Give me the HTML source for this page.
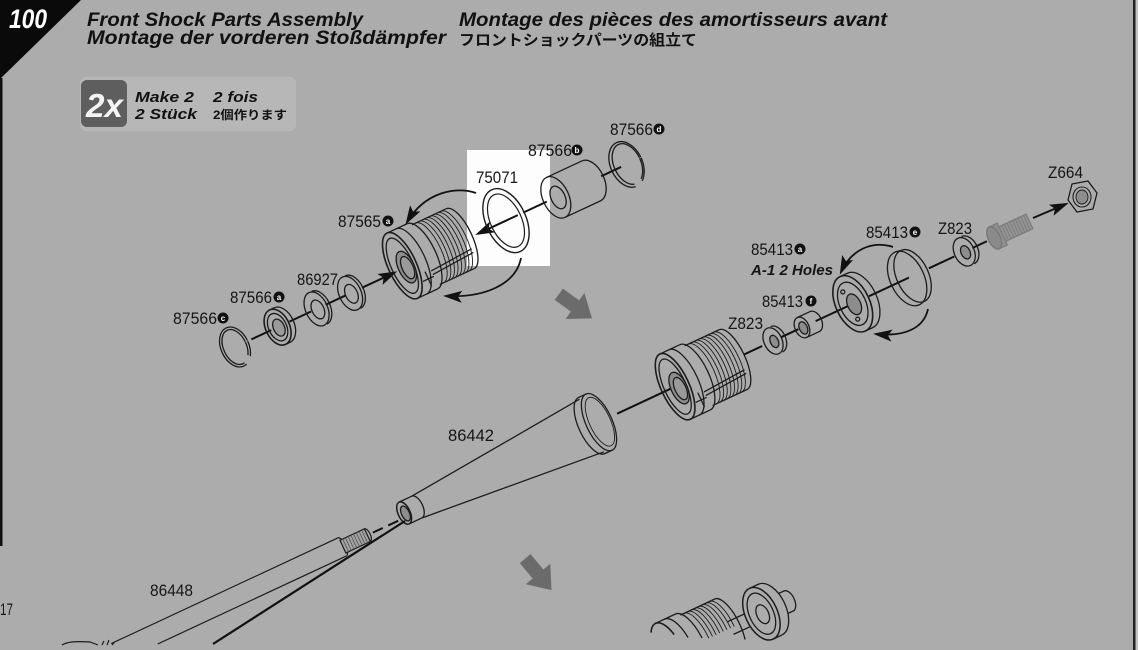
<!DOCTYPE html>
<html><head><meta charset="utf-8">
<style>
html,body{margin:0;padding:0;background:#acacac;overflow:hidden;width:1138px;height:650px;}
svg{display:block;overflow:hidden;}
text{font-family:"Liberation Sans","Noto Sans CJK JP",sans-serif;}
.l{font-size:17px;fill:#151515;}
.t{font-size:19px;font-weight:bold;font-style:italic;fill:#111;}
.c{font-size:8px;font-weight:bold;fill:#fff;}
</style></head><body>
<svg width="1138" height="650" viewBox="0 0 1138 650" xmlns="http://www.w3.org/2000/svg">
<defs>
 <marker id="ah" markerUnits="userSpaceOnUse" markerWidth="22" markerHeight="14" refX="16" refY="7" orient="auto">
  <path d="M0,1 L19,7 L0,13 L4,7 z" fill="#111"/>
 </marker>
 <g id="bd" fill="none" stroke="#1c1c1c" stroke-width="1.3">
  <path d="M0,-36 L22,-36 M0,36 L22,36"/>
  <path d="M22,-36 A14 36 0 0 1 22,36"/>
  <path d="M10,-36 A14 36 0 0 1 10,36"/>
  <path d="M26,-33 L64,-33 M26,33 L64,33"/>
  <path d="M64,-33 A12 33 0 0 1 64,33"/>
  <path d="M30,-33 A12 33 0 0 1 30,33 M34,-33 A12 33 0 0 1 34,33 M38,-33 A12 33 0 0 1 38,33 M42,-33 A12 33 0 0 1 42,33 M46,-33 A12 33 0 0 1 46,33 M50,-33 A12 33 0 0 1 50,33 M54,-33 A12 33 0 0 1 54,33 M58,-33 A12 33 0 0 1 58,33" stroke-width="0.9"/>
  <path d="M24,17 L70,14 M24,21 L70,18"/>
  <path d="M12,23 L24,23 M18,15 L18,31"/>
  <ellipse cx="0" cy="0" rx="14" ry="36" stroke-width="1.6"/>
  <ellipse cx="0" cy="0" rx="11" ry="30"/>
  <ellipse cx="3" cy="3" rx="8" ry="17" fill="#8d8d8d"/>
  <ellipse cx="4" cy="4" rx="5.5" ry="12" fill="#9a9a9a"/>
 </g>
</defs>

<rect x="0" y="0" width="1138" height="650" fill="#acacac"/>

<!-- frame -->
<polygon points="0,0 81,0 0,79" fill="#0a0a0a"/>
<rect x="0" y="78" width="2.5" height="468" fill="#111"/>
<rect x="1133" y="0" width="2.5" height="650" fill="#222"/>
<rect x="1135.5" y="0" width="2.5" height="650" fill="#c4c4c4"/>

<!-- header -->
<text x="9" y="28" font-size="27" font-weight="bold" font-style="italic" fill="#fff" textLength="38" lengthAdjust="spacingAndGlyphs">100</text>
<text class="t" x="87" y="26" textLength="276" lengthAdjust="spacingAndGlyphs">Front Shock Parts Assembly</text>
<text class="t" x="87" y="44" textLength="359" lengthAdjust="spacingAndGlyphs">Montage der vorderen Stoßdämpfer</text>
<text class="t" x="459" y="26" textLength="428" lengthAdjust="spacingAndGlyphs">Montage des pièces des amortisseurs avant</text>
<text x="459" y="45" font-size="15" font-weight="bold" fill="#111" textLength="238" lengthAdjust="spacingAndGlyphs">フロントショックパーツの組立て</text>

<!-- badge -->
<rect x="80" y="77" width="216" height="54" rx="6" fill="#b7b7b7"/>
<rect x="81" y="80" width="46" height="47" rx="6" fill="#5e5e5e"/>
<text x="86" y="117" font-size="33" font-weight="bold" font-style="italic" fill="#f4f4f4" textLength="37" lengthAdjust="spacingAndGlyphs">2x</text>
<text x="135" y="102" font-size="15" font-weight="bold" font-style="italic" fill="#111" textLength="59" lengthAdjust="spacingAndGlyphs">Make 2</text>
<text x="213" y="102" font-size="15" font-weight="bold" font-style="italic" fill="#111" textLength="45" lengthAdjust="spacingAndGlyphs">2 fois</text>
<text x="135" y="119" font-size="15" font-weight="bold" font-style="italic" fill="#111" textLength="62" lengthAdjust="spacingAndGlyphs">2 Stück</text>
<text x="213" y="119" font-size="12" font-weight="bold" fill="#111" textLength="74" lengthAdjust="spacingAndGlyphs">2個作ります</text>

<!-- white highlight -->
<rect x="467" y="150" width="83" height="116" fill="#fdfdfd"/>

<!-- gray block arrows -->
<polygon points="-20,-7 0,-7 0,-16 21,0 0,16 0,7 -20,7" transform="translate(575,306) rotate(36)" fill="#6b6b6b"/>
<polygon points="-20,-7 0,-7 0,-16 21,0 0,16 0,7 -20,7" transform="translate(538,574) rotate(50)" fill="#6b6b6b"/>

<!-- LEFT GROUP -->
<g transform="translate(235,347) rotate(-25)" fill="none" stroke="#1c1c1c" stroke-width="1.3">
 <g stroke="#111" stroke-width="2">
  <line x1="18" y1="0" x2="40" y2="0"/>
  <line x1="60" y1="0" x2="84" y2="0"/>
  <line x1="100" y1="0" x2="122" y2="0"/>
  <line x1="318" y1="0" x2="344" y2="0"/>
  <line x1="404" y1="0" x2="426" y2="0"/>
  <line x1="140" y1="0" x2="176" y2="0" marker-end="url(#ah)"/>
  <line x1="312" y1="0" x2="268" y2="0" marker-end="url(#ah)"/>
 </g>
 <ellipse cx="0" cy="0" rx="14" ry="21" pathLength="100" stroke-dasharray="14 8 78"/>
 <ellipse cx="0" cy="0" rx="11.5" ry="18.5" pathLength="100" stroke-dasharray="14 9 77"/>
 <path d="M52,-19 A12 19 0 0 1 52,19 M47,-19 L52,-19 M47,19 L52,19"/>
 <ellipse cx="47" cy="0" rx="12" ry="19" stroke-width="1.6"/>
 <ellipse cx="47" cy="0" rx="9" ry="14.5"/>
 <ellipse cx="48" cy="1" rx="5.5" ry="9" fill="#9a9a9a"/>
 <path d="M93,-18 A11 18 0 0 1 93,18"/>
 <ellipse cx="90" cy="0" rx="11" ry="18"/>
 <ellipse cx="91" cy="1" rx="6" ry="10"/>
 <path d="M130,-18 A11 18 0 0 1 130,18"/>
 <ellipse cx="127" cy="0" rx="11" ry="18"/>
 <ellipse cx="128" cy="1" rx="6" ry="10"/>
 <use href="#bd" transform="translate(186,-3)"/>
 <ellipse cx="299" cy="0" rx="20" ry="34" stroke-width="1.4"/>
 <ellipse cx="299" cy="0" rx="15.5" ry="28.5" stroke-width="1.2"/>
 <path d="M354,-22 L393,-22 M354,22 L393,22 M393,-22 A13 22 0 0 1 393,22"/>
 <ellipse cx="354" cy="0" rx="13" ry="22"/>
 <ellipse cx="356" cy="1" rx="7" ry="12"/>
 <ellipse cx="432" cy="0" rx="16" ry="24" pathLength="100" stroke-dasharray="19 7 74"/>
 <ellipse cx="433" cy="0" rx="13.5" ry="21.5" pathLength="100" stroke-dasharray="19 8 73"/>
</g>

<!-- curved arrows -->
<g fill="none" stroke="#111" stroke-width="1.8">
 <path d="M476,193 C456,186 425,192 407,222" marker-end="url(#ah)"/>
 <path d="M521,258 C516,284 485,298 446,296" marker-end="url(#ah)"/>
 <path d="M893,247 C872,240 851,250 841,272" marker-end="url(#ah)"/>
 <path d="M928,309 C924,328 905,337 876,334" marker-end="url(#ah)"/>
 <path d="M1033,218 L1066,204" stroke-width="2" marker-end="url(#ah)"/>
</g>

<!-- RIGHT GROUP (with cone) -->
<g transform="translate(773,341) rotate(-25)" fill="none" stroke="#1c1c1c" stroke-width="1.3">
 <g stroke="#111" stroke-width="2">
  <line x1="-172" y1="0" x2="-112" y2="0"/>
  <line x1="-32" y1="0" x2="-12" y2="0"/>
  <line x1="9" y1="0" x2="28" y2="0"/>
  <line x1="47" y1="0" x2="84" y2="0"/>
  <line x1="106" y1="0" x2="150" y2="0"/>
  <line x1="172" y1="0" x2="200" y2="0"/>
  <line x1="220" y1="0" x2="236" y2="0"/>
 </g>
 <path d="M-407,-12 L-393,-12 M-407,12 L-393,12 M-393,-12 A6 12 0 0 1 -393,12"/>
 <path d="M-393,-12 L-200,-29 M-393,12 L-200,29"/>
 <path d="M-200,-31 A13 31 0 0 0 -200,31 M-200,-31 L-192,-31 M-200,31 L-192,31"/>
 <ellipse cx="-192" cy="0" rx="13" ry="31"/>
 <ellipse cx="-191" cy="0" rx="10.5" ry="26.5" stroke-width="0.9"/>
 <ellipse cx="-407" cy="0" rx="6" ry="12" stroke-width="1.5"/>
 <ellipse cx="-406" cy="1" rx="4" ry="8" fill="#8d8d8d"/>
 <use href="#bd" transform="translate(-108,0)"/>
 <path d="M4,-14 A9 14 0 0 1 4,14"/>
 <ellipse cx="0" cy="0" rx="9" ry="14"/>
 <ellipse cx="1" cy="1" rx="4" ry="6.5" fill="#8d8d8d"/>
 <path d="M32,-11 L46,-11 M32,11 L46,11 M46,-11 A7 11 0 0 1 46,11"/>
 <ellipse cx="32" cy="0" rx="7" ry="11"/>
 <ellipse cx="33" cy="1" rx="4" ry="6.5" fill="#8d8d8d"/>
 <path d="M96,-30 A17 30 0 0 1 96,30 M88,-30 L96,-30 M88,30 L96,30"/>
 <ellipse cx="88" cy="0" rx="17" ry="30" stroke-width="1.6"/>
 <ellipse cx="88" cy="0" rx="13" ry="23"/>
 <ellipse cx="89" cy="1" rx="6.5" ry="11" fill="#8d8d8d"/>
 <circle cx="84" cy="-15" r="2"/>
 <circle cx="86" cy="16" r="2"/>
 <ellipse cx="148" cy="0" rx="17" ry="29"/>
 <ellipse cx="154" cy="0" rx="16" ry="28"/>
 <path d="M148,-29 L154,-28"/>
 <path d="M215,-15 A10 15 0 0 1 215,15"/>
 <ellipse cx="211" cy="0" rx="10" ry="15"/>
 <ellipse cx="212" cy="1" rx="4.5" ry="7" fill="#8d8d8d"/>
 <rect x="252" y="-8" width="31" height="16" fill="#939393" stroke="#7d7d7d"/>
 <path d="M256,-8 V8 M259,-8 V8 M262,-8 V8 M265,-8 V8 M268,-8 V8 M271,-8 V8 M274,-8 V8 M277,-8 V8 M280,-8 V8" stroke="#7b7b7b" stroke-width="0.8"/>
 <rect x="244" y="-12" width="9" height="24" fill="#8f8f8f" stroke="#7d7d7d"/>
 <ellipse cx="244" cy="0" rx="6" ry="12" fill="#8a8a8a" stroke="#777"/>
</g>

<!-- nut Z664 -->
<polygon points="1072,184 1088,181 1097,193 1093,209 1077,212 1068,200" fill="none" stroke="#1c1c1c" stroke-width="1.3"/>
<ellipse cx="1082" cy="197" rx="9" ry="10" fill="none" stroke="#1c1c1c" stroke-width="1.1"/>
<ellipse cx="1082" cy="197" rx="6" ry="7" fill="#8d8d8d" stroke="#1c1c1c" stroke-width="0.9"/>

<!-- rod 86448 (long lines in absolute coords) -->
<path d="M111.2,643.6 L337.8,537.9" fill="none" stroke="#1c1c1c" stroke-width="1.2"/>
<path d="M157.7,644 L346.2,556.1" fill="none" stroke="#1c1c1c" stroke-width="1.2"/>
<g transform="translate(342,547) rotate(-25)" fill="none" stroke="#1c1c1c" stroke-width="1.2">
 <path d="M0,-10 A4 10 0 0 1 0,10"/>
 <rect x="1" y="-7" width="27" height="14" fill="#a3a3a3"/>
 <path d="M4,-7 V7 M7,-7 V7 M10,-7 V7 M13,-7 V7 M16,-7 V7 M19,-7 V7 M22,-7 V7 M25,-7 V7" stroke="#555" stroke-width="0.8"/>
 <path d="M28,-7 A3 7 0 0 1 28,7"/>
 <line x1="34" y1="0" x2="62" y2="0" stroke="#111" stroke-width="2" stroke-dasharray="11 6"/>
</g>
<path d="M62,645 C67,642 74,641 90,642 L98,645 M102,645 L104,641 M107,645 L109,640 M112,645 L114,643" fill="none" stroke="#1c1c1c" stroke-width="1.2"/>
<line x1="213" y1="644" x2="405" y2="521" stroke="#111" stroke-width="2.2"/>

<!-- bottom assembly (absolute coords) -->
<g transform="translate(0,-3)" fill="none" stroke="#1c1c1c" stroke-width="1.3">
 <path d="M651,635.6 A14 36 -25 0 1 674.1,637.5" stroke-width="1.6"/>
 <path d="M655.5,626.3 L675.5,617"/>
 <path d="M664.6,622.1 A14 36 -25 0 1 688.1,640.6"/>
 <path d="M675.5,617 A14 36 -25 0 1 702,641"/>
 <path d="M680.4,618.1 L714.8,602"/>
 <path d="M684,616.4 A12 33 -25 0 1 708.8,641.2 M687.6,614.7 A12 33 -25 0 1 712.5,639.5 M691.2,613 A12 33 -25 0 1 716.1,637.8 M694.9,611.3 A12 33 -25 0 1 719.7,636.1 M698.5,609.6 A12 33 -25 0 1 723.3,634.4 M702.1,607.9 A12 33 -25 0 1 726.9,632.7 M705.7,606.2 A12 33 -25 0 1 730.6,631.1 M709.4,604.5 A12 33 -25 0 1 734.2,629.4" stroke-width="0.9"/>
 <path d="M714.8,602 A12 33 -25 0 1 745.1,642.5"/>
 <path d="M727.6,624.7 L743.9,617.1 M733.5,637.4 L749.8,629.8"/>
 <path d="M778.5,596.6 L783.9,594 M787.8,616.5 L793.2,614 M783.9,594 A6 11 -25 0 1 793.2,614"/>
 <path d="M758.6,587.1 A16 28 -25 0 1 782.3,637.8 M749.5,591.3 L758.6,587.1 M773.2,642.1 L782.3,637.8"/>
 <ellipse cx="761.4" cy="616.7" rx="16" ry="28" stroke-width="1.5" transform="rotate(-25 761.4 616.7)"/>
 <ellipse cx="761.4" cy="616.7" rx="12" ry="22" transform="rotate(-25 761.4 616.7)"/>
 <ellipse cx="762.7" cy="617.2" rx="6" ry="10" transform="rotate(-25 762.7 617.2)"/>
</g>

<!-- labels -->
<text class="l" x="173" y="324" textLength="44" lengthAdjust="spacingAndGlyphs">87566</text>
<circle cx="223" cy="318" r="5.5" fill="#111"/><text class="c" x="223" y="321" text-anchor="middle">c</text>
<text class="l" x="230" y="303" textLength="42" lengthAdjust="spacingAndGlyphs">87566</text>
<circle cx="279" cy="297" r="5.5" fill="#111"/><text class="c" x="279" y="300" text-anchor="middle">a</text>
<text class="l" x="297" y="285" textLength="41" lengthAdjust="spacingAndGlyphs">86927</text>
<text class="l" x="338" y="227" textLength="43" lengthAdjust="spacingAndGlyphs">87565</text>
<circle cx="388" cy="221" r="5.5" fill="#111"/><text class="c" x="388" y="224" text-anchor="middle">a</text>
<text class="l" x="476" y="183" textLength="42" lengthAdjust="spacingAndGlyphs">75071</text>
<text class="l" x="528" y="156" textLength="44" lengthAdjust="spacingAndGlyphs">87566</text>
<circle cx="577" cy="150" r="5.5" fill="#111"/><text class="c" x="577" y="153" text-anchor="middle">b</text>
<text class="l" x="610" y="135" textLength="43" lengthAdjust="spacingAndGlyphs">87566</text>
<circle cx="659" cy="129" r="5.5" fill="#111"/><text class="c" x="659" y="132" text-anchor="middle">d</text>

<text class="l" x="866" y="238" textLength="42" lengthAdjust="spacingAndGlyphs">85413</text>
<circle cx="915" cy="232" r="5.5" fill="#111"/><text class="c" x="915" y="235" text-anchor="middle">e</text>
<text class="l" x="938" y="234" textLength="34" lengthAdjust="spacingAndGlyphs">Z823</text>
<text class="l" x="751" y="255" textLength="42" lengthAdjust="spacingAndGlyphs">85413</text>
<circle cx="800" cy="249" r="5.5" fill="#111"/><text class="c" x="800" y="252" text-anchor="middle">a</text>
<text x="751" y="275" font-size="15" font-weight="bold" font-style="italic" fill="#151515" textLength="82" lengthAdjust="spacingAndGlyphs">A-1 2 Holes</text>
<text class="l" x="762" y="307" textLength="41" lengthAdjust="spacingAndGlyphs">85413</text>
<circle cx="811" cy="301" r="5.5" fill="#111"/><text class="c" x="811" y="304" text-anchor="middle">f</text>
<text class="l" x="728" y="329" textLength="35" lengthAdjust="spacingAndGlyphs">Z823</text>
<text class="l" x="1048" y="178" textLength="35" lengthAdjust="spacingAndGlyphs">Z664</text>
<text class="l" x="448" y="441" textLength="46" lengthAdjust="spacingAndGlyphs">86442</text>
<text class="l" x="150" y="596" textLength="43" lengthAdjust="spacingAndGlyphs">86448</text>
<text class="l" x="0" y="615" textLength="13" lengthAdjust="spacingAndGlyphs">17</text>
</svg>
</body></html>
